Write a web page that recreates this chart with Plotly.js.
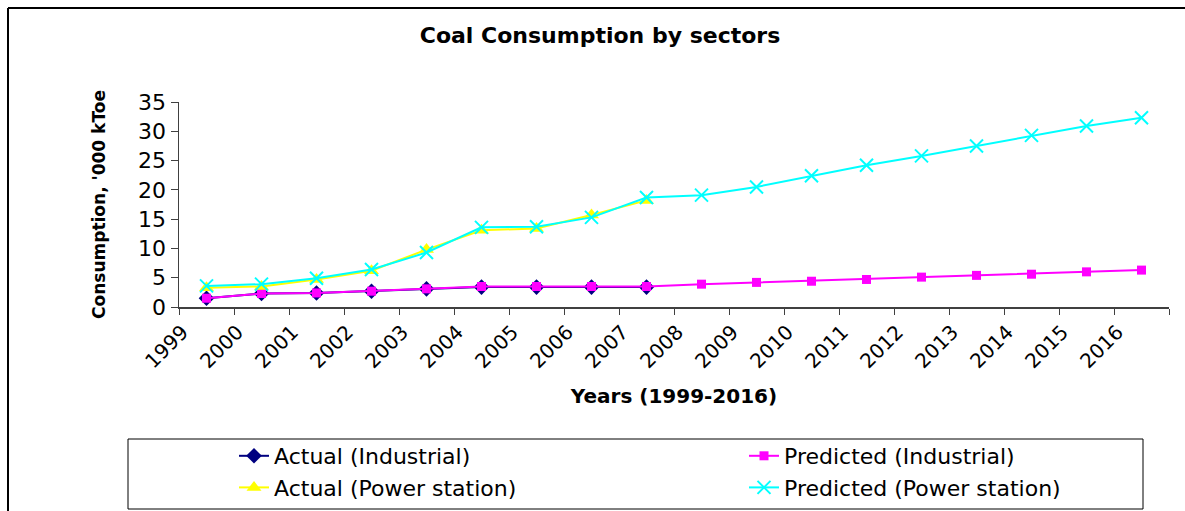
<!DOCTYPE html>
<html>
<head>
<meta charset="utf-8">
<script src="https://cdn.plot.ly/plotly-3.0.1.min.js"></script>
<style>
  html, body { margin: 0; padding: 0; background: #ffffff; }
  #chart { width: 1185px; height: 511px; }
</style>
</head>
<body>
<div id="chart"></div>
<script>
// ---- data ----
const years = ["1999","2000","2001","2002","2003","2004","2005","2006","2007",
               "2008","2009","2010","2011","2012","2013","2014","2015","2016"];
const actualIndustrial = [1.5, 2.3, 2.4, 2.7, 3.1, 3.4, 3.4, 3.4, 3.4];
const predictedIndustrial = [1.5, 2.3, 2.4, 2.7, 3.1, 3.5, 3.5, 3.5, 3.5,
                             3.9, 4.2, 4.4, 4.7, 5.1, 5.4, 5.6, 6.0, 6.3];
const actualPower = [3.3, 3.5, 4.7, 6.2, 9.8, 13.1, 13.4, 15.7, 18.2];
const predictedPower = [3.6, 3.9, 4.9, 6.4, 9.3, 13.6, 13.7, 15.3, 18.7,
                        19.1, 20.5, 22.4, 24.2, 25.8, 27.5, 29.3, 30.9, 32.3];
const seriesNames = ["Actual (Industrial)", "Predicted (Industrial)",
                     "Actual (Power station)", "Predicted (Power station)"];
const chartTitle = "Coal Consumption by sectors";
const xTitle = "Years (1999-2016)";
const yTitle = "Consumption, '000 kToe";

// ---- geometry helpers (layout only) ----
const W = 1185, H = 511;
const M = {l: 179, r: 16, t: 102, b: 204};
const pw = W - M.l - M.r, ph = H - M.t - M.b;
const px = x => (x - M.l) / pw;
const py = y => (H - M.b - y) / ph;

const FONT = '"DejaVu Sans", Verdana, sans-serif';

const traces = [
  {x: years.slice(0, actualIndustrial.length), y: actualIndustrial, name: seriesNames[0],
   type: 'scatter', mode: 'lines+markers', legend: 'legend', legendgroup: 'g0',
   line: {color: '#000080', width: 2},
   marker: {symbol: 'diamond', size: 12, color: '#000080'}},
  {x: years, y: predictedIndustrial, name: seriesNames[1],
   type: 'scatter', mode: 'lines+markers', legend: 'legend2', legendgroup: 'g1',
   line: {color: '#FF00FF', width: 2},
   marker: {symbol: 'square', size: 9, color: '#FF00FF'}},
  {x: years.slice(0, actualPower.length), y: actualPower, name: seriesNames[2],
   type: 'scatter', mode: 'lines+markers', legend: 'legend', legendgroup: 'g2',
   line: {color: '#FFFF00', width: 2},
   marker: {symbol: 'triangle-up', size: 13, color: '#FFFF00'}},
  {x: years, y: predictedPower, name: seriesNames[3],
   type: 'scatter', mode: 'lines+markers', legend: 'legend2', legendgroup: 'g3',
   line: {color: '#00FFFF', width: 2},
   marker: {symbol: 'x-thin', size: 13, color: '#00FFFF', line: {color: '#00FFFF', width: 2}}}
];

const legendCommon = {
  orientation: 'v', xanchor: 'left', yanchor: 'top', xref: 'paper', yref: 'paper',
  bgcolor: 'rgba(0,0,0,0)', borderwidth: 0, tracegroupgap: 8,
  font: {family: FONT, size: 22, color: '#000'}, traceorder: 'normal', itemwidth: 30
};

const layout = {
  width: W, height: H,
  margin: Object.assign({autoexpand: false}, M),
  paper_bgcolor: '#ffffff', plot_bgcolor: '#ffffff',
  font: {family: FONT, color: '#000000', size: 20},
  showlegend: true,
  title: {text: '<b>' + chartTitle + '</b>', font: {family: FONT, size: 22, color: '#000'},
          x: 600 / W, xanchor: 'center', xref: 'container',
          y: 1 - 35 / H, yanchor: 'middle', yref: 'container'},
  xaxis: {
    type: 'category', range: [-0.5, 17.5], fixedrange: true,
    tickson: 'boundaries', ticks: 'outside', ticklen: 6, tickwidth: 1, tickcolor: '#404040',
    showline: true, linecolor: '#404040', linewidth: 1.5,
    showgrid: false, zeroline: false,
    tickangle: -45, ticklabelshift: -24, ticklabelstandoff: 4, tickfont: {family: FONT, size: 20},
    title: {text: '<b>' + xTitle + '</b>', font: {family: FONT, size: 20}, standoff: 17},
    automargin: false
  },
  yaxis: {
    range: [0, 35], dtick: 5, tick0: 0, fixedrange: true,
    ticks: 'outside', ticklen: 7, tickwidth: 1, tickcolor: '#404040',
    showline: true, linecolor: '#404040', linewidth: 1.5,
    showgrid: false, zeroline: false,
    tickfont: {family: FONT, size: 22},
    title: {text: '<b>' + yTitle + '</b>', font: {family: FONT, size: 17}, standoff: 28},
    automargin: false
  },
  legend: Object.assign({}, legendCommon, {x: px(234), y: py(435)}),
  legend2: Object.assign({}, legendCommon, {x: px(744), y: py(435)}),
  shapes: [
    {type: 'rect', xref: 'paper', yref: 'paper', x0: px(128), x1: px(1143), y0: py(509), y1: py(439),
     line: {color: '#000000', width: 1}, fillcolor: 'rgba(0,0,0,0)', layer: 'below'},
    {type: 'line', xref: 'paper', yref: 'paper', x0: px(8), x1: px(1185), y0: py(8), y1: py(8),
     line: {color: '#000000', width: 2}},
    {type: 'line', xref: 'paper', yref: 'paper', x0: px(8), x1: px(8), y0: py(8), y1: py(511),
     line: {color: '#000000', width: 2}}
  ]
};

Plotly.newPlot('chart', traces, layout, {displayModeBar: false, staticPlot: true});
</script>
</body>
</html>
